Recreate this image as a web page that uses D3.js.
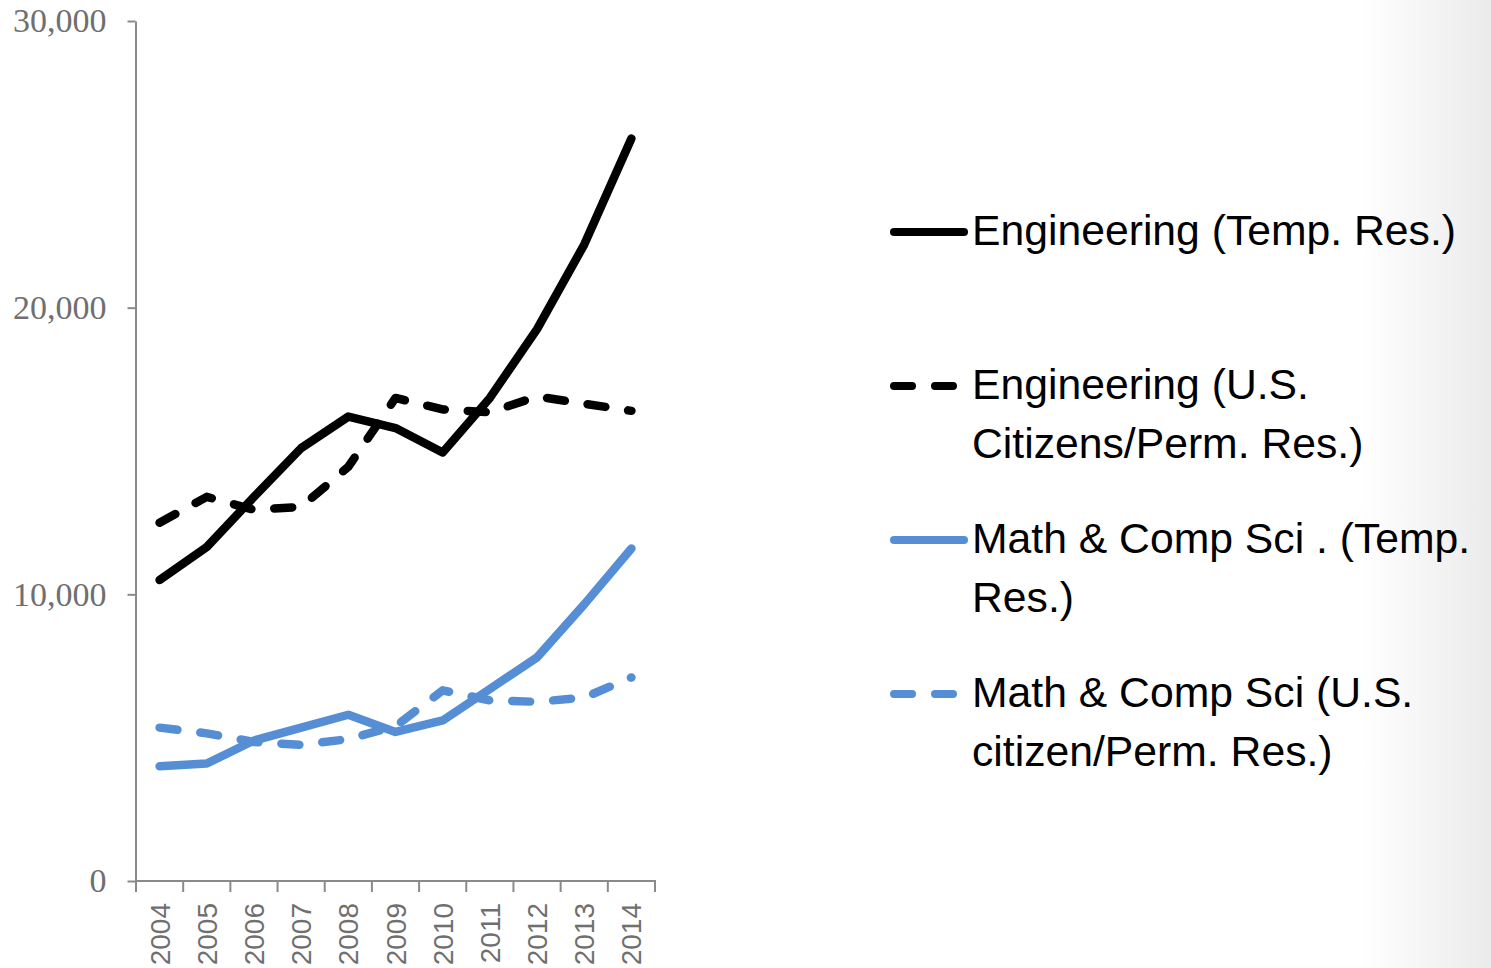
<!DOCTYPE html>
<html>
<head>
<meta charset="utf-8">
<script src="https://cdn.jsdelivr.net/npm/d3@7"></script>
<style>
  body { margin: 0; background: #fff; }
  svg { display: block; }
</style>
</head>
<body>
<script>
// values
var years = [2004, 2005, 2006, 2007, 2008, 2009, 2010, 2011, 2012, 2013, 2014];
var engTemp = [10500, 11650, 13400, 15100, 16200, 15800, 14950, 16850, 19250, 22200, 25900];
var engCitizen = [12500, 13400, 12950, 13050, 14450, 16850, 16450, 16350, 16900, 16650, 16400];
var mathTemp = [4000, 4100, 4900, 5350, 5800, 5200, 5600, 6700, 7800, 9650, 11600];
var mathCitizen = [5350, 5150, 4850, 4750, 4950, 5400, 6650, 6300, 6250, 6400, 7100];
var yTicks = [0, 10000, 20000, 30000];
var legendLabels = [
  ["Engineering (Temp. Res.)"],
  ["Engineering (U.S.", "Citizens/Perm. Res.)"],
  ["Math & Comp Sci . (Temp.", "Res.)"],
  ["Math & Comp Sci (U.S.", "citizen/Perm. Res.)"]
];

var width = 1491, height = 968;
var black = "#000000", blue = "#558ed5", axisColor = "#8a8a8a";

var series = [
  { values: engTemp, color: black, dash: null, label: legendLabels[0] },
  { values: engCitizen, color: black, dash: "18,23", label: legendLabels[1] },
  { values: mathTemp, color: blue, dash: null, label: legendLabels[2] },
  { values: mathCitizen, color: blue, dash: "18,23", label: legendLabels[3] }
];

var svg = d3.select("body").append("svg")
  .attr("width", width)
  .attr("height", height);

// faint slide shading on the right edge
var grad = svg.append("defs").append("linearGradient")
  .attr("id", "edge")
  .attr("x1", "0%").attr("x2", "100%").attr("y1", "0%").attr("y2", "0%");
grad.append("stop").attr("offset", "0%").attr("stop-color", "#ffffff");
grad.append("stop").attr("offset", "100%").attr("stop-color", "#ebebeb");
svg.append("rect").attr("x", 1360).attr("y", 0).attr("width", width - 1360).attr("height", height)
  .attr("fill", "url(#edge)");

var x = d3.scaleBand().domain(years).range([136, 655]).padding(0);
var y = d3.scaleLinear().domain([0, 30000]).range([881, 21]);
var bw = x.bandwidth();

// y axis
var axisy = d3.axisLeft(y).tickValues(yTicks).tickFormat(d3.format(","))
  .tickSize(8).tickSizeOuter(0).tickPadding(21);
var gy = svg.append("g")
  .attr("transform", "translate(135.5,0)")
  .call(axisy);
gy.select(".domain").attr("stroke", axisColor).attr("stroke-width", 2);
gy.selectAll(".tick line").attr("stroke", axisColor).attr("stroke-width", 2);
gy.selectAll(".tick text")
  .attr("fill", "#6f6f6f")
  .style("font-family", "'Liberation Serif', serif")
  .style("font-size", "34px");

// x axis: line, ticks on category boundaries, labels in the middle
var gx = svg.append("g");
gx.append("line")
  .attr("x1", 135).attr("x2", 656)
  .attr("y1", y(0)).attr("y2", y(0))
  .attr("stroke", axisColor).attr("stroke-width", 2);
var bounds = years.map(d => x(d)).concat([x(years[years.length - 1]) + bw]);
gx.selectAll(".xt").data(bounds).enter().append("line")
  .attr("class", "xt")
  .attr("x1", d => d).attr("x2", d => d)
  .attr("y1", y(0)).attr("y2", y(0) + 11)
  .attr("stroke", axisColor).attr("stroke-width", 2);
gx.selectAll(".xl").data(years).enter().append("text")
  .attr("class", "xl")
  .attr("transform", d => "translate(" + (x(d) + bw / 2 + 10) + "," + (y(0) + 22) + ") rotate(-90)")
  .attr("text-anchor", "end")
  .attr("fill", "#6f6f6f")
  .style("font-family", "'Liberation Sans', Arial, sans-serif")
  .style("font-size", "28px")
  .text(d => d);

// lines
var line = d3.line()
  .x((d, i) => x(years[i]) + bw / 2)
  .y(d => y(d));

series.forEach(function (s) {
  svg.append("path")
    .datum(s.values)
    .attr("fill", "none")
    .attr("stroke", s.color)
    .attr("stroke-width", 8.5)
    .attr("stroke-linejoin", "round")
    .attr("stroke-linecap", "round")
    .attr("stroke-dasharray", s.dash)
    .attr("d", line);
});

// legend
var lg = svg.append("g");
series.forEach(function (s, k) {
  var ly = 232 + k * 154;
  lg.append("line")
    .attr("x1", 894).attr("x2", 964)
    .attr("y1", ly).attr("y2", ly)
    .attr("stroke", s.color)
    .attr("stroke-width", 8)
    .attr("stroke-linecap", "round")
    .attr("stroke-dasharray", s.dash);
  var t = lg.append("text")
    .attr("x", 972).attr("y", ly + 13)
    .attr("fill", "#000")
    .style("font-family", "'Liberation Sans', Arial, sans-serif")
    .style("font-size", "42.7px");
  s.label.forEach(function (txt, j) {
    t.append("tspan").attr("x", 972).attr("dy", j === 0 ? 0 : 58.5).text(txt);
  });
});
</script>
</body>
</html>
